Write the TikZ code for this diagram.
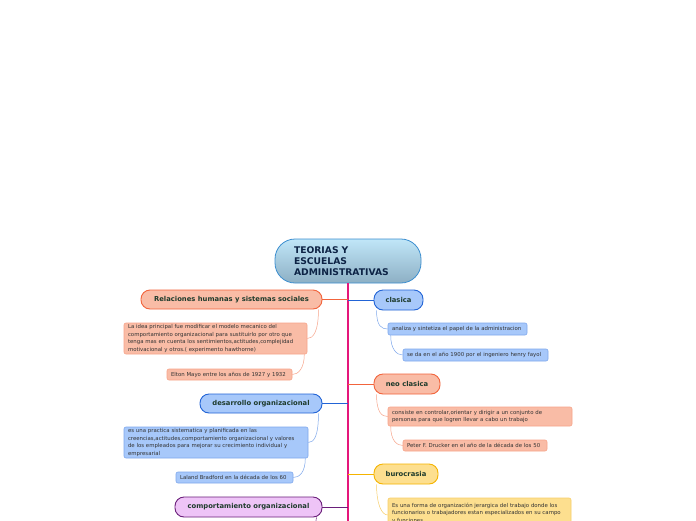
\documentclass[tikz,border=0pt]{standalone}
\usepackage{fontspec}
\setmainfont{DejaVu Sans}
\usetikzlibrary{shadings}
\newcommand\nohyph{\hyphenpenalty=10000\relax\exhyphenpenalty=10000\relax}
\definecolor{spinec}{HTML}{E5177B}
\definecolor{salF}{HTML}{F9BCA6}
\definecolor{salD}{HTML}{F2643C}
\definecolor{salL}{HTML}{F7A48A}
\definecolor{bluF}{HTML}{A7C8FA}
\definecolor{bluD}{HTML}{2264D6}
\definecolor{bluL}{HTML}{7FA8EC}
\definecolor{purF}{HTML}{EEC4F7}
\definecolor{purD}{HTML}{6A1F7A}
\definecolor{yelF}{HTML}{FDDF8F}
\definecolor{yelD}{HTML}{F5B400}
\definecolor{yelL}{HTML}{F7CE6A}
\definecolor{titc}{HTML}{0D2345}
\definecolor{catc}{HTML}{1E3B2C}
\definecolor{detc}{HTML}{333333}
\definecolor{mainT}{HTML}{C0E6F8}
\definecolor{mainB}{HTML}{8DAFC4}
\definecolor{mainD}{HTML}{3D8FD0}
\tikzset{
  cat/.style={draw, line width=0.9pt, rounded corners=9pt, inner sep=0pt,
    font=\fontsize{6.8}{7.5}\selectfont\bfseries, text=catc, align=center},
  det/.style={draw, line width=0.6pt, rounded corners=2pt, inner sep=0pt,
    font=\fontsize{5.4}{7.4}\selectfont\nohyph, text=detc, align=left},
  hconn/.style={line width=0.9pt},
  tconn/.style={line width=0.5pt},
}
\begin{document}
\begin{tikzpicture}[x=1pt,y=-1pt]
\useasboundingbox (0,0) rectangle (696,520);
\clip (0,0) rectangle (696,520);
\fill[white] (0,0) rectangle (696,520);
% main node
\node[draw=mainD, line width=0.8pt, rounded corners=20pt, top color=mainT, bottom color=mainB,
  minimum width=146pt, minimum height=44pt, inner sep=0pt, text width=108pt, align=left,
  font=\fontsize{9.2}{11.2}\selectfont\bfseries, text=titc] (main) at (348,261)
  {TEORIAS Y\\ESCUELAS\\ADMINISTRATIVAS};
\coordinate (spine) at (348,522);
\draw[spinec, line width=1.8pt] (main.south) -- (spine);
% left side
\node[cat, draw=salD, fill=salF, minimum width=181pt, minimum height=19pt] (rel) at (231.5,299.5)
  {Relaciones humanas y sistemas sociales};
\node[det, draw=salL, fill=salF, minimum width=183pt, minimum height=31pt, text width=175pt] (rel1) at (215.5,338.5)
  {La idea principal fue modificar el modelo mecanico del\\comportamiento organizacional para sustituirlo por otro que\\tenga mas en cuenta los sentimientos,actitudes,complejidad\\motivacional y otros.( experimento hawthorne)};
\node[det, draw=salL, fill=salF, minimum width=125pt, minimum height=11pt, text width=117pt] (rel2) at (229.5,374.5)
  {Elton Mayo entre los años de 1927 y 1932};
\node[cat, draw=bluD, fill=bluF, minimum width=122pt, minimum height=19pt] (des) at (261,403.5)
  {desarrollo organizacional};
\node[det, draw=bluL, fill=bluF, minimum width=184pt, minimum height=31pt, text width=176pt] (des1) at (216,442.5)
  {es una practica sistematica y planificada en las\\creencias,actitudes,comportamiento organizacional y valores\\de los empleados para mejorar su crecimiento individual y\\empresarial};
\node[det, draw=bluL, fill=bluF, minimum width=117pt, minimum height=11pt, text width=109pt] (des2) at (234.5,477.5)
  {Laland Bradford en la década de los 60};
\node[cat, draw=purD, fill=purF, minimum width=147pt, minimum height=20pt] (comp) at (248.5,507)
  {comportamiento organizacional};
% right side
\node[cat, draw=bluD, fill=bluF, minimum width=49pt, minimum height=20pt] (cla) at (398.5,300)
  {clasica};
\node[det, draw=bluL, fill=bluF, minimum width=139pt, minimum height=12pt, text width=131pt] (cla1) at (457.5,329)
  {analiza y sintetiza el papel de la administracion};
\node[det, draw=bluL, fill=bluF, minimum width=145pt, minimum height=12pt, text width=137pt] (cla2) at (475.5,355)
  {se da en el año 1900 por el ingeniero henry fayol};
\node[cat, draw=salD, fill=salF, minimum width=66pt, minimum height=20pt] (neo) at (407,384)
  {neo clasica};
\node[det, draw=salL, fill=salF, minimum width=184pt, minimum height=19pt, text width=176pt] (neo1) at (480,416.5)
  {consiste en controlar,orientar y dirigir a un conjunto de\\personas para que logren llevar a cabo un trabajo};
\node[det, draw=salL, fill=salF, minimum width=144pt, minimum height=11pt, text width=136pt] (neo2) at (475,445.5)
  {Peter F. Drucker en el año de la década de los 50};
\node[cat, draw=yelD, fill=yelF, minimum width=64pt, minimum height=20pt] (bur) at (406,474)
  {burocrasia};
\node[det, draw=yelL, fill=yelF, minimum width=183pt, minimum height=30pt, text width=175pt] (bur1) at (479.5,513)
  {Es una forma de organización jerargica del trabajo donde los\\funcionarios o trabajadores estan especializados en su campo\\y funciones};
% horizontal connectors
\draw[hconn, salD] (rel.east) -- (rel.east -| spine);
\draw[hconn, bluD] (des.east) -- (des.east -| spine);
\draw[hconn, purD] (comp.east) -- (comp.east -| spine);
\draw[hconn, bluD] (cla.west) -- (cla.west -| spine);
\draw[hconn, salD] (neo.west) -- (neo.west -| spine);
\draw[hconn, yelD] (bur.west) -- (bur.west -| spine);
% thin curved connectors
\draw[tconn, salL] ([xshift=-4pt]rel.south east) .. controls +(0,22) and +(6,0) .. (rel1.east);
\draw[tconn, salL] ([xshift=-3pt]rel1.south east) .. controls +(0,14) and +(6,0) .. (rel2.east);
\draw[tconn, bluL] ([xshift=-4pt]des.south east) .. controls +(0,22) and +(6,0) .. (des1.east);
\draw[tconn, bluL] ([xshift=-3pt]des1.south east) .. controls +(0,14) and +(6,0) .. (des2.east);
\coordinate (compc) at (300,540);
\draw[tconn, purD] ([xshift=-6pt]comp.south east) .. controls +(0,8) and +(6,0) .. (compc);
\draw[tconn, bluL] ([xshift=3pt]cla.south west) .. controls +(0,16) and +(-6,0) .. (cla1.west);
\draw[tconn, bluL] ([xshift=3pt]cla1.south west) .. controls +(0,14) and +(-6,0) .. (cla2.west);
\draw[tconn, salL] ([xshift=3pt]neo.south west) .. controls +(0,18) and +(-6,0) .. (neo1.west);
\draw[tconn, salL] ([xshift=3pt]neo1.south west) .. controls +(0,14) and +(-6,0) .. (neo2.west);
\draw[tconn, yelL] ([xshift=3pt]bur.south west) .. controls +(0,20) and +(-6,0) .. ([yshift=-2pt]bur1.west);
\end{tikzpicture}
\end{document}
